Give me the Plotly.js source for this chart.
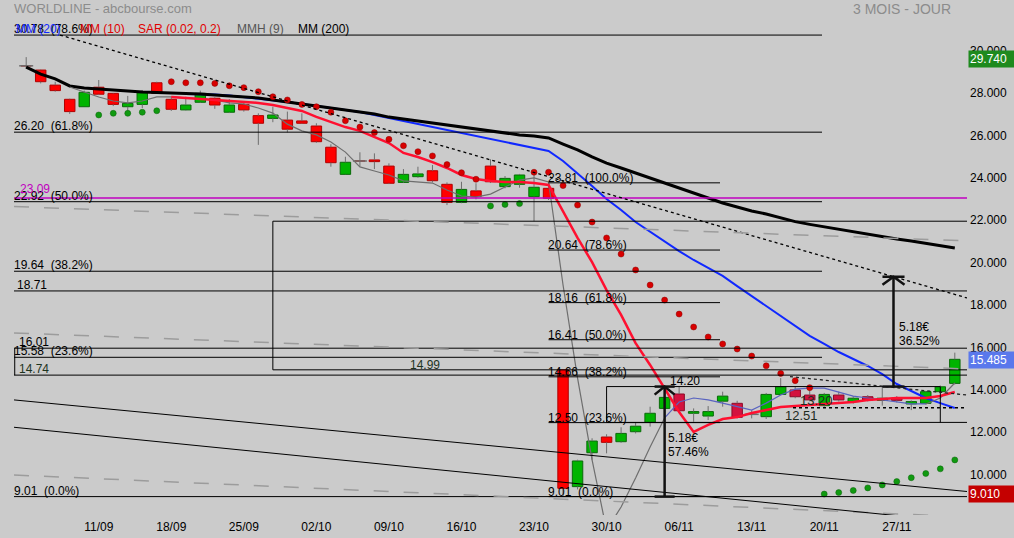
<!DOCTYPE html>
<html><head><meta charset="utf-8">
<script src="https://cdn.plot.ly/plotly-3.0.1.min.js"></script>
<style>html,body{margin:0;padding:0;background:#cbcbcb;overflow:hidden}</style>
</head><body><div id="chart" style="width:1014px;height:538px"></div>
<script>
// ---------- DATA ----------
const days = ['04/09','05/09','06/09','07/09','08/09','11/09','12/09','13/09','14/09','15/09','18/09','19/09','20/09','21/09','22/09','25/09','26/09','27/09','28/09','29/09','02/10','03/10','04/10','05/10','06/10','09/10','10/10','11/10','12/10','13/10','16/10','17/10','18/10','19/10','20/10','23/10','24/10','25/10','26/10','27/10','30/10','31/10','01/11','02/11','03/11','06/11','07/11','08/11','09/11','10/11','13/11','14/11','15/11','16/11','17/11','20/11','21/11','22/11','23/11','24/11','27/11','28/11','29/11','30/11','01/12'];
const openP = [29.33,29.13,28.42,27.75,27.40, 28.32,28.03,27.40,27.51,28.53, 27.75,27.25,27.61,27.80,27.14, 27.51,26.98,26.85,26.77,26.73, 26.49,25.49,24.21,24.84,24.89, 24.60,23.83,24.10,24.38,23.74, 22.89,23.43,24.60,23.63,23.74, 23.16,23.55,14.99,9.48,11.08, 11.82,11.60,12.07,12.51,13.17, 13.85,12.94,12.81,13.51,13.41, 12.89,12.78,13.83,14.04,13.80, 13.30,13.80,13.49,13.72,13.55, 13.65,13.38,13.41,13.96,14.35];
const highP = [29.74,29.15,28.58,27.78,28.16, 28.66,28.05,27.91,28.19,28.58, 27.87,27.87,28.16,27.85,27.76, 27.64,27.09,27.40,27.17,27.09, 26.62,25.63,25.04,25.25,25.20, 24.73,24.46,24.57,24.65,23.83, 23.86,23.79,24.92,24.13,24.23, 24.33,23.81,14.99,10.75,11.76, 11.95,12.28,12.51,13.25,13.90, 14.20,13.17,13.28,13.96,13.53, 13.09,13.90,14.60,14.20,14.14, 13.90,13.96,13.75,13.80,14.19, 13.75,13.55,14.00,14.25,15.80];
const lowP = [29.21,28.50,28.11,27.06,27.40, 27.95,27.43,27.17,27.34,28.00, 27.20,27.22,27.58,27.30,27.10, 27.17,25.60,26.67,26.19,26.60, 25.70,24.57,24.20,24.57,24.46, 23.75,23.80,24.05,23.83,22.76, 22.85,23.03,23.80,23.55,23.58, 22.00,23.00,9.01,9.35,10.74, 11.05,11.55,11.99,12.31,13.10, 13.00,12.54,12.62,13.25,12.70, 12.70,12.67,13.80,13.65,13.50, 13.25,13.50,13.40,13.50,13.30, 13.45,13.09,13.35,13.90,14.30];
const closeP = [29.33,28.58,28.16,27.17,28.08, 27.99,27.51,27.56,28.06,28.03, 27.28,27.48,28.03,27.48,27.48, 27.25,26.62,27.01,26.34,26.62, 25.75,24.76,24.78,24.84,24.81, 23.79,24.21,24.23,23.91,22.89, 23.50,23.16,23.86,24.02,24.18, 23.60,23.08,9.40,10.69,11.63, 11.57,11.99,12.33,12.94,13.69, 13.06,13.02,13.02,13.75,12.75, 12.89,13.83,14.19,13.72,13.57, 13.83,13.57,13.65,13.57,13.65, 13.55,13.49,13.96,14.19,15.485];
const mm200 = [29.27,28.94,28.71,28.38,28.28, 28.23,28.19,28.14,28.09,28.07, 28.05,28.00,28.00,27.95,27.91, 27.86,27.81,27.72,27.62,27.53, 27.43,27.34,27.25,27.15,27.06, 26.91,26.82,26.73,26.63,26.54, 26.44,26.35,26.26,26.16,26.07, 26.02,25.93,25.64,25.36,25.03, 24.74,24.51,24.27,24.04,23.80, 23.57,23.33,23.09,22.86,22.67, 22.48,22.34,22.15,21.98,21.85, 21.73,21.61,21.49,21.37,21.25, 21.16,21.07,20.97,20.85,20.74];
const mm20 = [null,null,null,null,null,null,null,null,null,null,null, 28.00,28.00,27.98,27.93,27.86,27.79,27.72,27.62,27.53,27.43, 27.34,27.25,27.15,27.01,26.87,26.73,26.58,26.44,26.30,26.16, 26.02,25.88,25.74,25.59,25.45,25.31,24.84,24.27,23.66,23.05, 22.53,21.96,21.49,21.02,20.59,20.17,19.79,19.42,18.94,18.47, 18.00,17.53,17.06,16.59,16.21,15.83,15.50,15.17,14.79,14.32, 13.99,13.66,13.42,13.19];
const mm10 = [null,null,null,null,null,null,null,null,null,null, 27.86,27.81,27.76,27.72,27.67, 27.62,27.58,27.48,27.34,27.20, 26.92,26.68,26.44,26.26,25.97, 25.69,25.22,25.03,24.79,24.51, 24.18,23.99,23.90,23.85,23.85, 23.80,23.71,22.43,21.21,20.07, 18.75,17.58,16.25,15.22,14.13, 13.00,12.06,12.39,12.67,12.76, 12.95,13.09,13.24,13.28,13.33, 13.38,13.42,13.47,13.57,13.61, 13.66,13.66,13.66,13.76,13.94];
const mmh9 = [null,null,null, 28.33,28.10, 27.86,27.67,27.58,27.67,27.86, 27.86,27.81,27.76,27.72,27.58, 27.53,27.34,27.10,26.58,26.26, 26.07,25.74,25.26,24.56,24.37, 24.18,23.90,23.85,23.80,23.47, 23.19,23.14,23.28,23.61,23.94, 24.04,23.85,18.99,14.60,10.74, 7.43,8.52,9.89,11.35,12.72, 13.47,13.66,13.57,13.42,13.24, 13.09,13.42,13.80,14.08,14.13, 14.13,13.94,13.75,13.66,13.57, 13.47,13.38,13.38,13.66,14.37];
const sar = [null,null,null,null,null, 27.01,27.09,27.09,27.14,27.21, 28.58,28.53,28.53,28.50,28.39, 28.30,28.11,27.87,27.72,27.51, 27.40,27.14,26.74,26.44,26.18, 25.86,25.56,25.28,25.08,24.67, 24.29,23.98,22.72,22.79,22.83, 24.31,24.31,23.68,22.76,21.96, 21.21,20.45,19.70,18.99,18.28, 17.62,17.01,16.54,16.21,15.97, 15.64,15.18,14.82,14.48,14.15, 9.13,9.20,9.30,9.42,9.56, 9.72,9.90,10.10,10.32,10.74];
const tickDays = ['11/09','18/09','25/09','02/10','09/10','16/10','23/10','30/10','06/11','13/11','20/11','27/11'];
const fibALevels = [30.78,26.20,22.92,19.64,15.58,9.01];
const fibAPct = ['78.6','61.8','50.0','38.2','23.6','0.0'];
const fibBLevels = [23.81,20.64,18.16,16.41,14.66,12.50,9.01];
const fibBPct = ['100.0','78.6','61.8','50.0','38.2','23.6','0.0'];
const levelMagenta = 23.09;
const levelsFull = [18.71,16.01,14.74];
const boxTop = 22.00, boxBottom = 14.99;
const rangeTop = 14.20, rangeBottom = 12.51, rangeMid = 13.20;
const moveSize = 5.18;
const movePctA = '57.46%', movePctB = '36.52%';
const lastHigh = 29.74, lastLow = 9.01, lastClose = 15.485;
const legendNames = ['MM (20)','MM (10)','SAR (0.02, 0.2)','MMH (9)','MM (200)'];

// ---------- BUILD ----------
const FONT = 'Liberation Sans, Arial, sans-serif';
const xs = days.map((d,k)=>k);
const XL = -0.84, XR = 64.84;
const YB = 8.142, YT = 31.585;
const PW = 953, PH = 497, ML = 14, MT = 18;
const px2x = p => XL + (p-ML)/PW*(XR-XL);

const bodyBase = [], bodyH = [], bodyCol = [], bodyLine = [];
const wx = [], wy = [], dojiX = [], dojiY = [];
xs.forEach((x,k)=>{
  const o=openP[k], c=closeP[k], lo=Math.min(o,c), hi=Math.max(o,c);
  bodyBase.push(lo); bodyH.push(hi-lo);
  if (c>o){bodyCol.push('#00b400'); bodyLine.push('#0a6a0a');}
  else if (k>=45){bodyCol.push('#d3123e'); bodyLine.push('#8c0a28');}
  else {bodyCol.push('#ff0000'); bodyLine.push('#b00000');}
  if (c===o){dojiX.push(x); dojiY.push(c);}
  wx.push(x,x,null,x,x,null); wy.push(highP[k],hi,null,lo,lowP[k],null);
});

const seg = (arr, a, b) => arr.map((v,k)=> (k>=a && k<=b) ? v : null);
const sarCol = sar.map((v,k)=> v==null ? '#000' : (v>closeP[k] ? '#d80000' : '#109a10'));
const sarLine = sar.map((v,k)=> v==null ? '#000' : (v>closeP[k] ? '#8a0000' : '#0a600a'));

const data = [
  {type:'bar', x:xs, y:bodyH, base:bodyBase, width:0.72, marker:{color:bodyCol, line:{color:bodyLine, width:1}}, hoverinfo:'skip'},
  {type:'scatter', mode:'lines', x:wx, y:wy, line:{color:'#6e6e6e', width:1}, hoverinfo:'skip'},
  {type:'scatter', mode:'markers', x:dojiX, y:dojiY, marker:{symbol:'line-ew', size:10, line:{color:'#6e6e6e', width:1.5}}, hoverinfo:'skip'},
  {type:'scatter', mode:'lines', x:xs, y:mm20, line:{color:'#1028ff', width:2}, hoverinfo:'skip'},
  {type:'scatter', mode:'lines', x:xs, y:mm200, line:{color:'#000000', width:3}, hoverinfo:'skip'},
  {type:'scatter', mode:'lines', x:xs, y:seg(mmh9,0,44), line:{color:'#6e6e6e', width:1.2}, hoverinfo:'skip'},
  {type:'scatter', mode:'lines', x:xs, y:seg(mmh9,44,62), line:{color:'#5a64c0', width:1.2}, hoverinfo:'skip'},
  {type:'scatter', mode:'lines', x:xs, y:seg(mmh9,62,64), line:{color:'#6e6e6e', width:1.2}, hoverinfo:'skip'},
  {type:'scatter', mode:'lines', x:xs, y:mm10, line:{color:'#ff1030', width:2.5}, hoverinfo:'skip'},
  {type:'scatter', mode:'markers', x:xs, y:sar, marker:{size:6, color:sarCol, line:{color:sarLine, width:0.5}}, hoverinfo:'skip'}
];

const shapes = [];
const L = (x0,y0,x1,y1,color='#000',width=1,dash='solid') => shapes.push({type:'line', xref:'x', yref:'y', x0, y0, x1, y1, line:{color, width, dash}});
const fibAEnd = px2x(822);
fibALevels.forEach((v,j)=> L(XL, v, j===fibALevels.length-1 ? XR : fibAEnd, v));
const fibBStart = days.indexOf('24/10'), fibBEnd = px2x(720);
fibBLevels.forEach(v=> L(fibBStart, v, fibBEnd, v));
L(XL, levelMagenta, XR, levelMagenta, '#c000c0', 1.5);
levelsFull.forEach(v=> L(XL, v, XR, v));
L(XL+0.05, levelsFull[1], XL+0.05, levelsFull[2]);
const boxX = days.indexOf('27/09');
L(boxX, boxTop, XR, boxTop); L(boxX, boxBottom, XR, boxBottom); L(boxX, boxTop, boxX, boxBottom);
const rX0 = days.indexOf('30/10'), rX1 = days.indexOf('30/11');
L(rX0, rangeTop, rX1, rangeTop); L(rX0, rangeBottom, XR, rangeBottom);
L(rX0, rangeTop, rX0, rangeBottom); L(rX1, rangeTop, rX1, rangeBottom);
L(px2x(793), rangeMid, XR, rangeMid, '#000', 1.3, 'dot');
L(px2x(60), 30.78, XR, 18.38, '#000', 1.3, 'dot');
L(px2x(790), 14.67, XR, 13.80, '#222', 1.3, 'dot');
L(XL, 22.69, XR, 21.07, '#9c9c9c', 1.5, 'longdash');
L(XL, 16.73, XR, 15.03, '#9c9c9c', 1.5, 'longdash');
L(XL, 10.03, XR, 8.05, '#9c9c9c', 1.5, 'longdash');
L(XL, 13.57, XR, 9.25, '#000', 1);
L(XL, 12.28, XR, 7.78, '#000', 1);
function arrow(x, y0, y1, hw){
  L(x, y0, x, y1, '#111', 2.5);
  L(x-hw, y0, x+hw, y0, '#111', 2.5);
  L(x-hw, y1, x+hw, y1, '#111', 2.5);
  shapes.push({type:'path', xref:'x', yref:'y', path:`M ${x-hw},${y1-0.38} L ${x},${y1} L ${x+hw},${y1-0.38}`, line:{color:'#111', width:2.5}});
}
const aX1 = days.indexOf('03/11');
arrow(aX1, lastLow, rangeTop, 0.69);
const aX2 = px2x(893.5);
arrow(aX2, rangeTop, rangeTop+moveSize, 0.76);

// ---------- ANNOTATIONS ----------
const ann = [];
const T = (x, y, text, o={}) => ann.push(Object.assign({xref:'x', yref:'y', x, y, text, showarrow:false, xanchor:'left', yanchor:'middle', font:{family:FONT, size:12, color:'#000'}}, o));
const sp = '\u00a0\u00a0';
fibALevels.forEach((v,j)=> T(XL, v, v.toFixed(2)+sp+'('+fibAPct[j]+'%)', {yshift:6, xshift:-2}));
fibBLevels.forEach((v,j)=> T(fibBStart, v, v.toFixed(2)+sp+'('+fibBPct[j]+'%)', {yshift:5, xshift:-3}));
T(XL, levelMagenta, levelMagenta.toFixed(2), {yshift:9, xshift:4, font:{family:FONT, size:12, color:'#c000c0'}});
T(XL, levelsFull[0], levelsFull[0].toFixed(2), {yshift:6, xshift:1});
T(XL, levelsFull[1], levelsFull[1].toFixed(2), {yshift:6, xshift:3});
T(XL, levelsFull[2], levelsFull[2].toFixed(2), {yshift:6, xshift:3, font:{family:FONT, size:12, color:'#1e341e'}});
T(px2x(408), boxBottom, boxBottom.toFixed(2), {yshift:5, font:{family:FONT, size:12, color:'#1e341e'}});
T(px2x(668), rangeTop, rangeTop.toFixed(2), {yshift:6});
T(px2x(798), rangeMid, rangeMid.toFixed(2), {yshift:7, font:{family:FONT, size:13, color:'#1e2a1e'}});
T(px2x(783), rangeBottom, rangeBottom.toFixed(2), {yshift:7, font:{family:FONT, size:13, color:'#1e2a1e'}});
T(px2x(666), 11.79, moveSize.toFixed(2)+'€');
T(px2x(666), 11.13, movePctA);
T(px2x(897), 17.01, moveSize.toFixed(2)+'€');
T(px2x(897), 16.35, movePctB);
const tag = (v, txt, bg, ys) => ann.push({xref:'paper', yref:'y', x:1, y:v, yshift:ys, xshift:1, xanchor:'left', yanchor:'middle', text:txt, showarrow:false, bgcolor:bg, width:44, height:14, align:'left', borderpad:1, font:{family:FONT, size:12, color:'#ffffff'}});
tag(lastHigh, lastHigh.toFixed(3), '#1e8a1e', -2);
tag(lastClose, lastClose.toFixed(3), '#5a78ec', -1);
tag(lastLow, lastLow.toFixed(3), '#c40000', 3);
const P = (px, py, text, color, o={}) => ann.push(Object.assign({xref:'paper', yref:'paper', x:(px-ML)/PW, y:(MT+PH-py)/PH, text, showarrow:false, xanchor:'left', yanchor:'middle', font:{family:FONT, size:12, color}}, o));
P(12, 9, 'WORLDLINE - abcbourse.com', '#8c8c8c', {font:{family:FONT, size:13, color:'#8c8c8c'}});
P(953, 9, '3 MOIS - JOUR', '#8c8c8c', {xanchor:'right', font:{family:FONT, size:14, color:'#8c8c8c'}});
const legCols = ['#1028ff','#e00000','#e00000','#555555','#000000'];
const legX = [14, 78, 136, 235, 296];
legendNames.forEach((n,j)=> P(legX[j], 29, n, legCols[j]));

const tv = tickDays.map(d=>days.indexOf(d));
const layout = {
  width:1014, height:538,
  margin:{l:ML, r:1014-ML-PW, t:MT, b:538-MT-PH, pad:0},
  paper_bgcolor:'#cbcbcb', plot_bgcolor:'#cbcbcb',
  showlegend:false, hovermode:false, barmode:'overlay',
  xaxis:{range:[XL,XR], showgrid:false, zeroline:false, showline:false, ticks:'', tickvals:tv, ticktext:tickDays, ticklabelstandoff:3, tickfont:{family:FONT, size:12, color:'#000'}, fixedrange:true},
  yaxis:{range:[YB,YT], side:'right', dtick:2, tick0:0, tickformat:'.3f', showgrid:false, zeroline:false, showline:false, ticks:'', ticklabelshift:-1, ticklabelstandoff:2, tickfont:{family:FONT, size:12, color:'#000'}, fixedrange:true},
  shapes, annotations:ann
};
Plotly.newPlot('chart', data, layout, {staticPlot:true, displayModeBar:false});
</script></body></html>
